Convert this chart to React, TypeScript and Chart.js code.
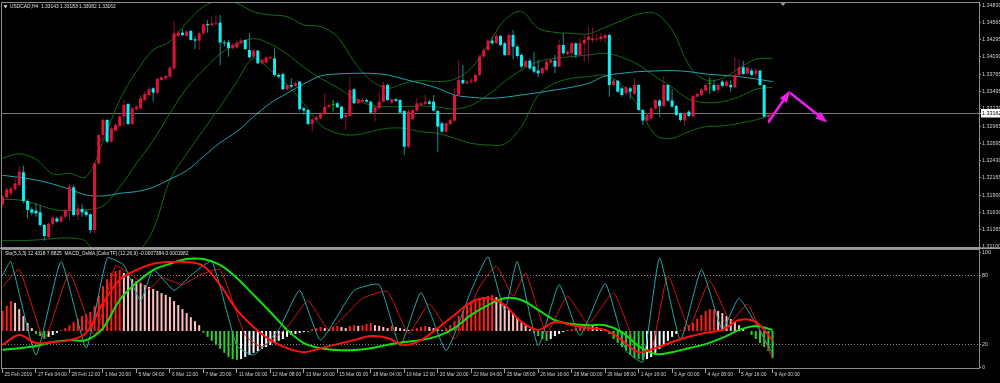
import React, { useEffect, useRef } from "react";
import { Chart, registerables } from "chart.js";

Chart.register(...registerables);

// ---------------- data ----------------
const TITLE_MAIN = "USDCAD,H4  1.33143 1.33183 1.33082 1.33162";
const TITLE_SUB = "Sto(5,3,3) 12.4318 7.8825  MACD_OsMA [ColorTF] (12,26,9) -0.0007384 0.0001982";

const TIME_LABELS = ["25 Feb 2019","27 Feb 04:00","28 Feb 12:00","1 Mar 20:00","5 Mar 04:00","6 Mar 12:00","7 Mar 20:00","11 Mar 00:00","12 Mar 08:00","13 Mar 16:00","15 Mar 00:00","18 Mar 04:00","19 Mar 12:00","20 Mar 20:00","22 Mar 04:00","25 Mar 08:00","26 Mar 16:00","28 Mar 00:00","29 Mar 08:00","1 Apr 16:00","3 Apr 00:00","4 Apr 08:00","5 Apr 16:00","9 Apr 00:00"];
const TIME_TICK_BARS = [0,8,16,24,32,40,48,56,64,72,80,88,96,104,112,120,128,136,144,152,160,168,176,184];

const PRICE_TICKS = [1.34830,1.34565,1.34295,1.34030,1.33765,1.33495,1.33230,1.32965,1.32695,1.32430,1.32165,1.31900,1.31630,1.31365,1.31100];
const STO_TICKS = [100,80,20,0];

const OPEN = [1.31764,1.31866,1.31928,1.31990,1.32056,1.32252,1.31810,1.31681,1.31661,1.31635,1.31439,1.31250,1.31455,1.31542,1.31491,1.31568,1.31661,1.32021,1.31593,1.31687,1.31645,1.31604,1.31362,1.32390,1.32827,1.33059,1.32724,1.32894,1.32966,1.33110,1.33306,1.32997,1.33223,1.33239,1.33367,1.33444,1.33547,1.33480,1.33675,1.33701,1.33727,1.33855,1.34354,1.34405,1.34354,1.34431,1.34303,1.34282,1.34395,1.34539,1.34518,1.34534,1.34560,1.34251,1.34256,1.34164,1.34174,1.34241,1.34292,1.34138,1.34035,1.34128,1.33932,1.33943,1.34009,1.34009,1.33753,1.33768,1.33532,1.33598,1.33583,1.33650,1.33239,1.33213,1.32997,1.33059,1.33084,1.33151,1.33264,1.33290,1.33316,1.33264,1.33100,1.33120,1.33532,1.33316,1.33342,1.33367,1.33342,1.33172,1.33239,1.33342,1.33598,1.33326,1.33378,1.33367,1.33197,1.32647,1.33069,1.33203,1.33290,1.33306,1.33342,1.33342,1.33197,1.33007,1.32879,1.32997,1.33049,1.33444,1.33675,1.33624,1.33645,1.33650,1.33753,1.34035,1.34138,1.34282,1.34241,1.34354,1.34241,1.34061,1.34369,1.34189,1.34061,1.33881,1.33973,1.33881,1.33820,1.33778,1.33830,1.33943,1.33973,1.33881,1.34215,1.34076,1.34087,1.34241,1.34061,1.34241,1.34292,1.34292,1.34303,1.34303,1.34318,1.34369,1.33598,1.33665,1.33547,1.33470,1.33547,1.33460,1.33598,1.33213,1.33049,1.33084,1.33239,1.33357,1.33275,1.33598,1.33357,1.33275,1.33161,1.33049,1.33187,1.33110,1.33418,1.33444,1.33511,1.33614,1.33598,1.33521,1.33650,1.33583,1.33598,1.33563,1.33753,1.33871,1.33778,1.33820,1.33768,1.33820,1.33598,1.33110,1.33143];
const HIGH = [1.31902,1.32021,1.32031,1.32185,1.32354,1.32354,1.31835,1.31712,1.31774,1.31748,1.31455,1.31475,1.31593,1.31568,1.31593,1.31697,1.32072,1.32056,1.31764,1.31764,1.31681,1.31619,1.32416,1.32853,1.33084,1.33069,1.32956,1.33007,1.33136,1.33367,1.33316,1.33264,1.33290,1.33444,1.33496,1.33573,1.33563,1.33717,1.33737,1.33752,1.33891,1.34570,1.34436,1.34457,1.34446,1.34446,1.34344,1.34421,1.34549,1.34601,1.34652,1.34678,1.34678,1.34292,1.34292,1.34241,1.34282,1.34318,1.34303,1.34395,1.34148,1.34138,1.34009,1.34035,1.34045,1.34164,1.33778,1.33789,1.33624,1.33701,1.33650,1.33665,1.33264,1.33223,1.33084,1.33120,1.33187,1.33470,1.33316,1.33367,1.33342,1.33275,1.33161,1.33717,1.33547,1.33393,1.33388,1.33393,1.33357,1.33275,1.33496,1.33650,1.33624,1.33393,1.33393,1.33383,1.33213,1.33223,1.33223,1.33393,1.33342,1.33444,1.33367,1.33444,1.33213,1.33033,1.33018,1.33084,1.33547,1.33984,1.33907,1.33675,1.33701,1.33778,1.34061,1.34164,1.34303,1.34344,1.34395,1.34369,1.34266,1.34395,1.34446,1.34215,1.34087,1.33984,1.34009,1.34112,1.33984,1.33881,1.33984,1.34004,1.34061,1.34292,1.34395,1.34138,1.34251,1.34251,1.34318,1.34395,1.34498,1.34488,1.34395,1.34405,1.34385,1.34385,1.33701,1.33675,1.33573,1.33583,1.33573,1.33701,1.33614,1.33223,1.33161,1.33254,1.33378,1.33378,1.33737,1.33614,1.33532,1.33290,1.33172,1.33187,1.33213,1.33444,1.33480,1.33547,1.33624,1.33717,1.33675,1.33624,1.33675,1.33675,1.33675,1.34025,1.33994,1.33973,1.33891,1.33855,1.33855,1.33830,1.33614,1.33172,1.33183];
const LOW = [1.31722,1.31845,1.31887,1.31969,1.32031,1.31774,1.31542,1.31593,1.31568,1.31414,1.31198,1.31234,1.31414,1.31476,1.31465,1.31542,1.31517,1.31568,1.31517,1.31568,1.31568,1.31311,1.31311,1.32364,1.32750,1.32699,1.32699,1.32879,1.32946,1.32956,1.32981,1.32981,1.33203,1.33213,1.33342,1.33418,1.33342,1.33460,1.33655,1.33675,1.33712,1.33840,1.34333,1.34344,1.34333,1.34282,1.34148,1.34138,1.34369,1.34405,1.34498,1.34524,1.33907,1.34189,1.34035,1.34148,1.34158,1.34226,1.34138,1.34009,1.34009,1.33922,1.33907,1.33932,1.33994,1.33727,1.33701,1.33521,1.33511,1.33547,1.33563,1.33203,1.33136,1.32981,1.32879,1.33033,1.33069,1.33136,1.33239,1.33187,1.33239,1.33069,1.32904,1.33110,1.33306,1.33300,1.33326,1.33326,1.33161,1.33033,1.33223,1.33326,1.33352,1.33306,1.33336,1.33151,1.32519,1.32622,1.33049,1.33187,1.33275,1.33290,1.33290,1.33187,1.32570,1.32863,1.32863,1.32981,1.33033,1.33429,1.33609,1.33609,1.33624,1.33634,1.33737,1.34009,1.34112,1.34215,1.34230,1.34200,1.34045,1.34045,1.33994,1.34009,1.33855,1.33866,1.33830,1.33778,1.33717,1.33727,1.33815,1.33932,1.33778,1.33871,1.34061,1.34061,1.34009,1.34009,1.34045,1.33958,1.33958,1.34251,1.34266,1.34266,1.34241,1.33418,1.33583,1.33480,1.33418,1.33444,1.33377,1.33444,1.33197,1.32981,1.33033,1.33069,1.33213,1.33110,1.33264,1.33342,1.33254,1.33120,1.33033,1.32966,1.33100,1.33100,1.33403,1.33429,1.33496,1.33460,1.33496,1.33470,1.33563,1.33563,1.33496,1.33547,1.33737,1.33753,1.33753,1.33737,1.33701,1.33583,1.33100,1.33033,1.33082];
const CLOSE = [1.31876,1.31990,1.32005,1.32082,1.32262,1.31810,1.31671,1.31630,1.31619,1.31439,1.31270,1.31455,1.31553,1.31491,1.31568,1.31671,1.32031,1.31593,1.31697,1.31635,1.31593,1.31362,1.32390,1.32827,1.33059,1.32724,1.32930,1.32981,1.33110,1.33290,1.32997,1.33239,1.33264,1.33393,1.33460,1.33531,1.33480,1.33691,1.33717,1.33737,1.33866,1.34395,1.34405,1.34369,1.34421,1.34292,1.34282,1.34395,1.34534,1.34518,1.34549,1.34549,1.34251,1.34241,1.34164,1.34215,1.34251,1.34282,1.34153,1.34025,1.34128,1.33932,1.33984,1.34025,1.34025,1.33753,1.33727,1.33532,1.33598,1.33573,1.33624,1.33223,1.33203,1.32997,1.33069,1.33100,1.33161,1.33264,1.33290,1.33290,1.33254,1.33084,1.33136,1.33521,1.33316,1.33378,1.33367,1.33342,1.33172,1.33254,1.33342,1.33598,1.33367,1.33378,1.33352,1.33172,1.32647,1.33187,1.33213,1.33316,1.33316,1.33342,1.33306,1.33203,1.32956,1.32879,1.33007,1.33059,1.33444,1.33675,1.33624,1.33650,1.33665,1.33753,1.34035,1.34138,1.34282,1.34241,1.34354,1.34215,1.34061,1.34369,1.34189,1.34045,1.33881,1.33968,1.33855,1.33804,1.33778,1.33855,1.33958,1.33984,1.33881,1.34215,1.34087,1.34112,1.34241,1.34061,1.34241,1.34292,1.34344,1.34318,1.34318,1.34344,1.34369,1.33598,1.33665,1.33496,1.33444,1.33563,1.33496,1.33598,1.33213,1.33049,1.33136,1.33239,1.33367,1.33275,1.33598,1.33357,1.33264,1.33136,1.33059,1.33161,1.33120,1.33429,1.33460,1.33531,1.33598,1.33614,1.33511,1.33598,1.33583,1.33650,1.33563,1.33753,1.33871,1.33768,1.33866,1.33753,1.33820,1.33598,1.33110,1.33143,1.33162];

const BAND_X = [0,4,8,12,16,20,24,28,32,36,40,44,48,52,56,60,64,68,72,76,80,84,88,92,96,100,104,108,112,116,120,124,128,132,136,140,144,148,152,156,160,164,168,172,176,180,184];
const BB_UPPER = [1.32467,1.32535,1.32452,1.32226,1.32236,1.32185,1.32724,1.33367,1.33804,1.34138,1.34266,1.34560,1.34806,1.34899,1.34858,1.34729,1.34678,1.34652,1.34524,1.34498,1.34344,1.33958,1.33675,1.33547,1.33624,1.33665,1.33650,1.33686,1.33855,1.34215,1.34601,1.34729,1.34472,1.34410,1.34395,1.34385,1.34488,1.34591,1.34693,1.34703,1.34446,1.33907,1.33675,1.33701,1.33855,1.33994,1.34009];
const BB_MID = [1.31835,1.31825,1.31764,1.31681,1.31661,1.31671,1.31733,1.32021,1.32390,1.32740,1.33161,1.33547,1.33830,1.34076,1.34230,1.34313,1.34230,1.34076,1.33871,1.33701,1.33563,1.33393,1.33285,1.33264,1.33264,1.33275,1.33259,1.33228,1.33285,1.33444,1.33650,1.33830,1.33958,1.34009,1.34035,1.34061,1.34087,1.34025,1.33907,1.33727,1.33563,1.33378,1.33326,1.33342,1.33418,1.33532,1.33563];
const BB_LOWER = [1.31198,1.31198,1.31208,1.31229,1.31239,1.31183,1.30797,1.30694,1.30977,1.31362,1.32133,1.32535,1.32904,1.33264,1.33650,1.34009,1.33830,1.33598,1.33316,1.32981,1.32853,1.32827,1.32879,1.32930,1.32930,1.32879,1.32853,1.32776,1.32699,1.32673,1.32689,1.32956,1.33444,1.33624,1.33701,1.33727,1.33748,1.33598,1.33264,1.32827,1.32776,1.32879,1.32956,1.32966,1.33007,1.33059,1.33136];
const MA_SLOW = [1.32205,1.32174,1.32133,1.32072,1.31990,1.31902,1.31887,1.31928,1.31954,1.32021,1.32144,1.32277,1.32493,1.32709,1.32879,1.33110,1.33316,1.33470,1.33614,1.33737,1.33768,1.33778,1.33778,1.33753,1.33686,1.33624,1.33547,1.33444,1.33408,1.33393,1.33408,1.33444,1.33480,1.33521,1.33563,1.33624,1.33737,1.33778,1.33804,1.33814,1.33820,1.33804,1.33768,1.33748,1.33727,1.33691,1.33650];

const ARROW_UP_X = [183.1, 188.2];
const ARROW_UP_Y = [1.33033, 1.33511];
const ARROW_DOWN_X = [188.4, 197.1];
const ARROW_DOWN_Y = [1.33467, 1.33018];
const SHIFT_MARKER_BAR = 186.5;

const OSMA = [0.00055,0.00069,0.00082,0.00077,0.0006,0.00041,0.00022,0.00008,-0.00008,-0.00014,-0.00022,-0.00016,-0.00011,-0.00005,0.00003,0.00008,0.00016,0.00025,0.00033,0.00041,0.00047,0.00052,0.00069,0.00096,0.00123,0.00142,0.00159,0.00164,0.00167,0.00159,0.00151,0.00142,0.00137,0.00132,0.00126,0.00121,0.00115,0.0011,0.00104,0.00099,0.00093,0.00082,0.00071,0.0006,0.00049,0.00038,0.00027,0.00016,-0.00005,-0.00016,-0.00027,-0.00038,-0.00049,-0.0006,-0.00071,-0.00077,-0.00079,-0.00077,-0.00071,-0.00066,-0.0006,-0.00055,-0.00049,-0.00044,-0.00038,-0.00033,-0.00027,-0.00022,-0.00016,-0.00011,-0.00008,-0.00005,-0.00003,-0.00003,0.00005,0.00008,0.00011,0.00008,0.00005,0.00011,0.00014,0.00011,0.00008,0.00014,0.00016,0.00014,0.00016,0.00019,0.00022,0.00016,0.00014,0.00011,0.00008,0.00014,0.00011,0.00008,0.00005,0.00003,0.00005,0.00008,0.00011,0.00014,0.00011,0.00008,0.00005,0.00003,0.00008,0.00016,0.00027,0.00041,0.00055,0.00069,0.00077,0.00082,0.00088,0.00093,0.00096,0.00099,0.00093,0.00082,0.00071,0.0006,0.00049,0.00038,0.00027,0.00016,0.00005,-0.00005,-0.00014,-0.00022,-0.00027,-0.00022,-0.00014,-0.00008,-0.00003,0.00003,0.00005,0.00008,0.00011,0.00014,0.00016,0.00014,0.00011,0.00008,0.00005,-0.00008,-0.00022,-0.00033,-0.00044,-0.00055,-0.00066,-0.00074,-0.00077,-0.00079,-0.00077,-0.00071,-0.0006,-0.00049,-0.00038,-0.00027,-0.00016,-0.00008,0.00003,0.00011,0.00016,0.00022,0.00033,0.00044,0.00055,0.0006,0.0006,0.00055,0.00049,0.00041,0.00033,0.00025,0.00016,0.00008,0,-0.00011,-0.00022,-0.00033,-0.00044,-0.00055,-0.00074];
const MACD_MAIN = [-0.00038,-0.00011,-0.00033,-0.0003,-0.00025,-0.00005,0.00077,0.0014,0.00167,0.00184,0.00189,0.00189,0.00178,0.00126,0.00058,0.00011,-0.00025,-0.00047,-0.00058,-0.00047,-0.00036,-0.00025,-0.00014,-0.00019,-0.00038,-0.00025,0.00008,0.00044,0.00079,0.0009,0.00071,0.00025,0.00003,0.00025,0.00016,0.00008,0.00003,-0.00025,-0.00058,-0.00047,-0.0003,-0.00016,-0.00005,0.00003,0.0003,0.00025,-0.00025];
const MACD_SIGNAL = [-0.00052,-0.00047,-0.00041,-0.0003,-0.00025,-0.00025,0.00008,0.00085,0.00132,0.00167,0.00184,0.00197,0.00197,0.00181,0.00145,0.00099,0.00052,0.00003,-0.00033,-0.00047,-0.00052,-0.00052,-0.00047,-0.00038,-0.0003,-0.00025,-0.00014,0.00008,0.00044,0.00071,0.0009,0.00085,0.00058,0.0003,0.00019,0.00016,0.00016,-0.00003,-0.00041,-0.00063,-0.00058,-0.00047,-0.00036,-0.00019,0.00003,0.00014,0.00003];

const STO_MAIN_X = [0,2,8,14,20,25,29,33,36,41,45,50,56,60,66,71,76,84,90,95,100,106,112,116,120,123,128,133,138,144,149,153,157,162,167,172,176,184];
const STO_MAIN = [80,92,11,92,17,95,89,58,85,67,80,92,19,11,33,67,24,67,72,19,65,15,67,96,50,92,19,72,28,73,15,5,95,24,85,33,60,12.43];
const STO_SIG_X = [0,4,10,16,22,27,31,35,38,43,47,52,58,62,68,73,78,86,92,97,102,108,114,118,122,125,130,135,140,146,151,155,159,164,169,174,178,184];
const STO_SIG = [70,85,25,82,28,88,80,68,78,72,80,85,28,18,35,58,33,60,66,30,55,25,70,88,62,82,30,62,38,65,22,15,80,35,75,40,55,7.88];

// ---------------- layout / style ----------------
const X_MIN = -0.12;
const X_MAX = 233.33;
const AXIS_W = 21;
const FONT = '"Liberation Sans", Arial, sans-serif';
const FS = 5.4;
const FS_SMALL = 4.9;
const TXT = "#d0d0d0";
const FRAME = "#8c8c8c";
const BULL_BODY = "#dc143c";
const BULL_WICK = "#8e1030";
const BEAR_BODY = "#12eef2";
const BEAR_WICK = "#1b8f96";
const DOJI = "#00c000";
const BAND = "#136b13";
const MA_COLOR = "#1fa4ad";
const LAST_CLOSE = CLOSE[CLOSE.length - 1];

const pts = (xs: number[], ys: number[]) => xs.map((x, i) => ({ x, y: ys[i] }));

function drawArrow(ctx: CanvasRenderingContext2D, x0: number, y0: number, x1: number, y1: number) {
  const dx = x1 - x0, dy = y1 - y0;
  const len = Math.hypot(dx, dy);
  const ux = dx / len, uy = dy / len;
  const head = 12, half = 4.2;
  const bx = x1 - ux * head, by = y1 - uy * head;
  ctx.save();
  ctx.strokeStyle = "#f01cf0";
  ctx.fillStyle = "#f01cf0";
  ctx.lineWidth = 2.6;
  ctx.lineCap = "round";
  ctx.beginPath();
  ctx.moveTo(x0, y0);
  ctx.lineTo(bx + ux * 2, by + uy * 2);
  ctx.stroke();
  ctx.beginPath();
  ctx.moveTo(x1, y1);
  ctx.lineTo(bx - uy * half, by + ux * half);
  ctx.lineTo(bx + uy * half, by - ux * half);
  ctx.closePath();
  ctx.fill();
  ctx.restore();
}

const topDecor = {
  id: "topDecor",
  afterDatasetsDraw(chart: any) {
    const { ctx, scales } = chart;
    const x = scales.x, y = scales.y;
    drawArrow(ctx, x.getPixelForValue(ARROW_UP_X[0]), y.getPixelForValue(ARROW_UP_Y[0]), x.getPixelForValue(ARROW_UP_X[1]), y.getPixelForValue(ARROW_UP_Y[1]));
    drawArrow(ctx, x.getPixelForValue(ARROW_DOWN_X[0]), y.getPixelForValue(ARROW_DOWN_Y[0]), x.getPixelForValue(ARROW_DOWN_X[1]), y.getPixelForValue(ARROW_DOWN_Y[1]));
  },
  afterDraw(chart: any) {
    const { ctx, chartArea: a, width } = chart;
    ctx.save();
    ctx.strokeStyle = FRAME;
    ctx.lineWidth = 1;
    ctx.strokeRect(a.left - 0.5, a.top - 0.5, a.right - a.left + 1, a.bottom - a.top + 1);
    ctx.fillStyle = "#9a9a9a";
    ctx.fillRect(0, a.bottom + 0.5, width, 1.5);
    ctx.fillStyle = "#e0e0e0";
    ctx.beginPath();
    ctx.moveTo(3.5, 5.2);
    ctx.lineTo(7.5, 5.2);
    ctx.lineTo(5.5, 8.2);
    ctx.closePath();
    ctx.fill();
    ctx.font = `${FS_SMALL}px ${FONT}`;
    ctx.textBaseline = "middle";
    ctx.textAlign = "left";
    ctx.fillText(TITLE_MAIN, 10, 6.8);
    const sx = chart.scales.x.getPixelForValue(SHIFT_MARKER_BAR);
    ctx.fillStyle = "#9a9a9a";
    ctx.beginPath();
    ctx.moveTo(sx - 2.5, a.top);
    ctx.lineTo(sx + 2.5, a.top);
    ctx.lineTo(sx, a.top + 3);
    ctx.closePath();
    ctx.fill();
    ctx.restore();
  },
};

const bottomDecor = {
  id: "bottomDecor",
  afterDraw(chart: any) {
    const { ctx, chartArea: a } = chart;
    ctx.save();
    ctx.strokeStyle = FRAME;
    ctx.lineWidth = 1;
    ctx.strokeRect(a.left - 0.5, a.top - 0.5, a.right - a.left + 1, a.bottom - a.top + 1);
    ctx.fillStyle = "#e0e0e0";
    ctx.font = `${FS_SMALL}px ${FONT}`;
    ctx.textBaseline = "middle";
    ctx.textAlign = "left";
    ctx.fillText(TITLE_SUB, 5, 4.4);
    ctx.restore();
  },
};

const candleKind = (i: number) => (CLOSE[i] > OPEN[i] ? 1 : CLOSE[i] < OPEN[i] ? -1 : 0);

export default function App() {
  const topRef = useRef<HTMLCanvasElement | null>(null);
  const botRef = useRef<HTMLCanvasElement | null>(null);

  useEffect(() => {
    if (!topRef.current || !botRef.current) return;
    Chart.defaults.font.family = FONT;

    const top = new Chart(topRef.current, {
      type: "bar",
      data: {
        datasets: [
          { type: "line", data: pts(BAND_X, BB_UPPER), borderColor: BAND, borderWidth: 1, pointRadius: 0, tension: 0.35, order: 6 } as any,
          { type: "line", data: pts(BAND_X, BB_MID), borderColor: BAND, borderWidth: 1, pointRadius: 0, tension: 0.35, order: 6 } as any,
          { type: "line", data: pts(BAND_X, BB_LOWER), borderColor: BAND, borderWidth: 1, pointRadius: 0, tension: 0.35, order: 6 } as any,
          { type: "line", data: pts(BAND_X, MA_SLOW), borderColor: MA_COLOR, borderWidth: 1, pointRadius: 0, tension: 0.35, order: 5 } as any,
          {
            type: "bar",
            data: LOW.map((l, i) => ({ x: i, y: [l, HIGH[i]] })),
            grouped: false,
            maxBarThickness: 1,
            inflateAmount: 0,
            borderWidth: 0,
            backgroundColor: (c: any) => { const k = candleKind(c.dataIndex); return k > 0 ? BULL_WICK : k < 0 ? BEAR_WICK : DOJI; },
            order: 3,
          } as any,
          {
            type: "bar",
            data: OPEN.map((o, i) => ({ x: i, y: [o, CLOSE[i]] })),
            grouped: false,
            maxBarThickness: 3,
            minBarLength: 1,
            inflateAmount: 0,
            borderWidth: 0,
            backgroundColor: (c: any) => { const k = candleKind(c.dataIndex); return k > 0 ? BULL_BODY : k < 0 ? BEAR_BODY : DOJI; },
            order: 2,
          } as any,
        ],
      },
      options: {
        animation: false,
        responsive: false,
        maintainAspectRatio: false,
        devicePixelRatio: 1,
        layout: { padding: { left: 2, right: 0, top: 3, bottom: 2 } },
        plugins: { legend: { display: false }, tooltip: { enabled: false } },
        scales: {
          x: { type: "linear", min: X_MIN, max: X_MAX, offset: false, display: false, grid: { offset: false } },
          y: {
            position: "right",
            min: 1.311,
            max: 1.34862,
            beginAtZero: false,
            afterBuildTicks: (s: any) => { s.ticks = [...PRICE_TICKS, LAST_CLOSE].map((value) => ({ value })); },
            afterFit: (s: any) => { s.width = AXIS_W; s.paddingTop = 0; s.paddingBottom = 0; },
            border: { display: false },
            grid: {
              drawOnChartArea: true,
              drawTicks: true,
              tickLength: 2,
              tickColor: "#a0a0a0",
              color: (c: any) => (c.tick && c.tick.value === LAST_CLOSE ? "#7a7a7a" : "rgba(0,0,0,0)"),
            },
            ticks: {
              autoSkip: false,
              padding: 1,
              font: { size: FS, family: FONT },
              color: (c: any) => (c.tick && c.tick.value === LAST_CLOSE ? "#000000" : TXT),
              showLabelBackdrop: (c: any) => !!(c.tick && c.tick.value === LAST_CLOSE),
              backdropColor: "#ffffff",
              backdropPadding: { top: 1, bottom: 1, left: 1, right: 6 },
              callback: (v: any) => Number(v).toFixed(5),
            },
          } as any,
        },
      },
      plugins: [topDecor],
    } as any);

    const bottom = new Chart(botRef.current, {
      type: "bar",
      data: {
        datasets: [
          {
            type: "bar",
            yAxisID: "yo",
            data: OSMA.map((v, i) => ({ x: i, y: v })),
            barThickness: 2,
            inflateAmount: 0,
            borderWidth: 0,
            backgroundColor: (c: any) => {
              const i = c.dataIndex;
              const v = OSMA[i];
              const p = i > 0 ? OSMA[i - 1] : v;
              if (v >= 0) return v >= p ? "#ff1e1e" : "#ffc0c0";
              return v <= p ? "#2ccf2c" : "#ffffff";
            },
            order: 5,
          } as any,
          { type: "line", yAxisID: "y", data: pts(STO_SIG_X, STO_SIG), borderColor: "#d41515", borderWidth: 1, pointRadius: 0, tension: 0.15, order: 4 } as any,
          { type: "line", yAxisID: "y", data: pts(STO_MAIN_X, STO_MAIN), borderColor: "#22aaa6", borderWidth: 1, pointRadius: 0, tension: 0.15, order: 3 } as any,
          { type: "line", yAxisID: "yo", data: pts(BAND_X, MACD_SIGNAL), borderColor: "#10e010", borderWidth: 2, pointRadius: 0, tension: 0.35, order: 2 } as any,
          { type: "line", yAxisID: "yo", data: pts(BAND_X, MACD_MAIN), borderColor: "#ff1010", borderWidth: 2, pointRadius: 0, tension: 0.35, order: 1 } as any,
        ],
      },
      options: {
        animation: false,
        responsive: false,
        maintainAspectRatio: false,
        devicePixelRatio: 1,
        layout: { padding: { left: 2, right: 0, top: 1, bottom: 0 } },
        plugins: { legend: { display: false }, tooltip: { enabled: false } },
        scales: {
          x: {
            type: "linear",
            min: X_MIN,
            max: X_MAX,
            offset: false,
            position: "bottom",
            afterBuildTicks: (s: any) => { s.ticks = TIME_TICK_BARS.map((value) => ({ value })); },
            afterFit: (s: any) => { s.height = 15; s.paddingLeft = 0; s.paddingRight = 0; },
            border: { display: false },
            grid: { offset: false, drawOnChartArea: false, drawTicks: true, tickLength: 5, tickColor: "#a0a0a0", color: "rgba(0,0,0,0)" },
            ticks: {
              autoSkip: false,
              maxRotation: 0,
              minRotation: 0,
              align: "start",
              labelOffset: 2,
              padding: -1.5,
              font: { size: FS_SMALL, family: FONT },
              color: TXT,
              callback: (_v: any, idx: number) => TIME_LABELS[idx],
            },
          } as any,
          y: {
            position: "right",
            min: -0.26,
            max: 102,
            beginAtZero: false,
            afterBuildTicks: (s: any) => { s.ticks = STO_TICKS.map((value) => ({ value })); },
            afterFit: (s: any) => { s.width = AXIS_W; s.paddingTop = 0; s.paddingBottom = 0; },
            border: { display: false, dash: [1, 2] },
            grid: {
              drawOnChartArea: true,
              drawTicks: true,
              tickLength: 2,
              tickColor: "#a0a0a0",
              color: (c: any) => (c.tick && (c.tick.value === 80 || c.tick.value === 20) ? "#8a8a8a" : "rgba(0,0,0,0)"),
            },
            ticks: {
              autoSkip: false,
              padding: 1,
              font: { size: FS, family: FONT },
              color: TXT,
              callback: (v: any) => String(v),
            },
          } as any,
          yo: { type: "linear", display: false, min: -0.0010138, max: 0.0022194, beginAtZero: false } as any,
        },
      },
      plugins: [bottomDecor],
    } as any);

    return () => {
      top.destroy();
      bottom.destroy();
    };
  }, []);

  return (
    <div style={{ position: "fixed", left: 0, top: 0, width: 1000, height: 383, background: "#000", overflow: "hidden" }}>
      <canvas ref={topRef} width={1000} height={249} style={{ position: "absolute", left: 0, top: 0, width: 1000, height: 249, display: "block" }} />
      <canvas ref={botRef} width={1000} height={134} style={{ position: "absolute", left: 0, top: 249, width: 1000, height: 134, display: "block" }} />
    </div>
  );
}
